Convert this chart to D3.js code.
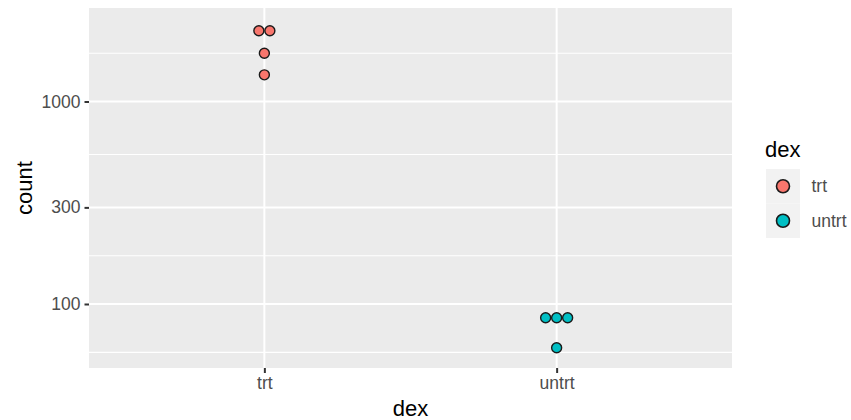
<!DOCTYPE html>
<html>
<head>
<meta charset="utf-8">
<script src="https://cdn.jsdelivr.net/npm/d3@7"></script>
<style>
  html, body { margin: 0; padding: 0; background: #fff; }
  svg { display: block; font-family: "Liberation Sans", Arial, Helvetica, sans-serif; }
</style>
</head>
<body>
<svg id="chart" width="851" height="420"></svg>
<script>
// ---- data ----
const categories = ["trt", "untrt"];
const trtCounts = [2237, 2237, 1730, 1354];
const untrtCounts = [85.5, 85.5, 85.5, 60.8];
const yTickValues = [100, 300, 1000];
const yTickLabels = ["100", "300", "1000"];
const yMinorValues = [57.7, 173.2, 547.7, 1732];
const yDomain = [48.3, 2895];
const seriesColors = ["#F8766D", "#00BFC4"];
const xTitle = "dex";
const yTitle = "count";
const legendTitle = "dex";

// ---- layout ----
const panel = { left: 89, right: 732, top: 8, bottom: 368 };
const svg = d3.select("#chart");

const x = d3.scalePoint().domain(categories).range([panel.left, panel.right]).padding(0.6);
const y = d3.scaleLog().domain(yDomain).range([panel.bottom, panel.top]);
const color = d3.scaleOrdinal().domain(categories).range(seriesColors);

// panel background
svg.append("rect")
  .attr("x", panel.left).attr("y", panel.top)
  .attr("width", panel.right - panel.left).attr("height", panel.bottom - panel.top)
  .attr("fill", "#EBEBEB");

// minor gridlines
svg.append("g").selectAll("line").data(yMinorValues).join("line")
  .attr("x1", panel.left).attr("x2", panel.right)
  .attr("y1", d => y(d)).attr("y2", d => y(d))
  .attr("stroke", "#fff").attr("stroke-width", 1.1);

// major gridlines
svg.append("g").selectAll("line").data(yTickValues).join("line")
  .attr("x1", panel.left).attr("x2", panel.right)
  .attr("y1", d => y(d)).attr("y2", d => y(d))
  .attr("stroke", "#fff").attr("stroke-width", 2);
svg.append("g").selectAll("line").data(categories).join("line")
  .attr("x1", d => x(d)).attr("x2", d => x(d))
  .attr("y1", panel.top).attr("y2", panel.bottom)
  .attr("stroke", "#fff").attr("stroke-width", 2);

// dots (dotplot, centered stacks)
const series = [
  { cat: "trt", values: trtCounts },
  { cat: "untrt", values: untrtCounts }
];
const dotD = 11;
const dots = [];
series.forEach(s => {
  const groups = d3.group(s.values, v => v);
  groups.forEach((vals) => {
    const n = vals.length;
    vals.forEach((val, i) => {
      dots.push({ cat: s.cat, value: val, offset: (i - (n - 1) / 2) * dotD });
    });
  });
});
svg.append("g").selectAll("circle").data(dots).join("circle")
  .attr("cx", d => x(d.cat) + d.offset)
  .attr("cy", d => y(d.value))
  .attr("r", 5.0)
  .attr("fill", d => color(d.cat))
  .attr("stroke", "#1a1a1a").attr("stroke-width", 1.4);

// y axis
const yAxis = d3.axisLeft(y).tickValues(yTickValues)
  .tickFormat((d, i) => yTickLabels[i]).tickSize(4.5).tickPadding(4);
const gy = svg.append("g").attr("transform", `translate(${panel.left},0)`).call(yAxis);
gy.select(".domain").remove();
gy.selectAll(".tick line").attr("stroke", "#333333").attr("stroke-width", 2);
gy.selectAll(".tick text").attr("fill", "#4D4D4D").style("font-size", "17.5px")
  .attr("font-family", "Liberation Sans, Arial, sans-serif");

// x axis
const xAxis = d3.axisBottom(x).tickSize(5).tickPadding(4);
const gx = svg.append("g").attr("transform", `translate(0,${panel.bottom})`).call(xAxis);
gx.select(".domain").remove();
gx.selectAll(".tick line").attr("stroke", "#333333").attr("stroke-width", 2);
gx.selectAll(".tick text").attr("fill", "#4D4D4D").style("font-size", "17.5px")
  .attr("font-family", "Liberation Sans, Arial, sans-serif");

// axis titles
svg.append("text")
  .attr("x", (panel.left + panel.right) / 2).attr("y", 416)
  .attr("text-anchor", "middle").style("font-size", "22px").attr("fill", "#000")
  .text(xTitle);
svg.append("text")
  .attr("transform", `translate(32,${(panel.top + panel.bottom) / 2}) rotate(-90)`)
  .attr("text-anchor", "middle").style("font-size", "22px").attr("fill", "#000")
  .text(yTitle);

// legend
const lg = svg.append("g");
lg.append("text").attr("x", 765).attr("y", 157)
  .style("font-size", "22px").attr("fill", "#000").text(legendTitle);
const keyH = 34.5, keyTop = 169, keyLeft = 766, keyW = 34;
const items = lg.selectAll("g.item").data(categories).join("g").attr("class", "item")
  .attr("transform", (d, i) => `translate(${keyLeft},${keyTop + i * keyH})`);
items.append("rect").attr("width", keyW).attr("height", keyH).attr("fill", "#F2F2F2");
items.append("circle").attr("cx", keyW / 2).attr("cy", keyH / 2).attr("r", 6.5)
  .attr("fill", d => color(d)).attr("stroke", "#1a1a1a").attr("stroke-width", 1.6);
items.append("text").attr("x", 45.5).attr("y", keyH / 2).attr("dy", "0.35em")
  .style("font-size", "17.5px").attr("fill", "#4D4D4D").text(d => d);
</script>
</body>
</html>
